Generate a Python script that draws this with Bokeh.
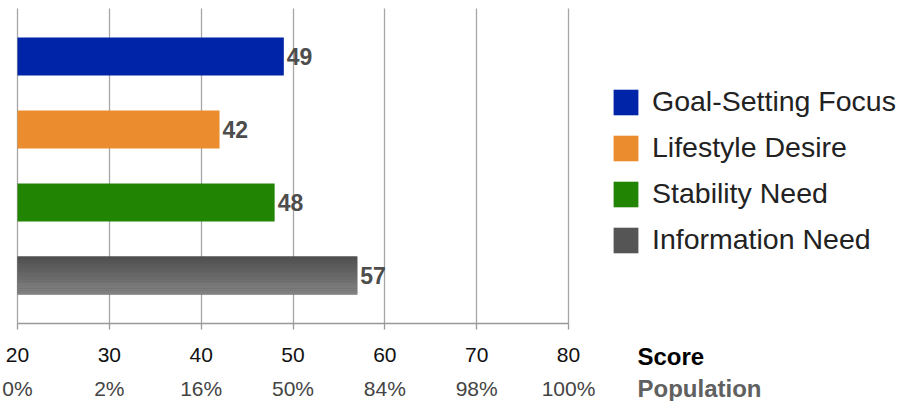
from bokeh.plotting import figure
from bokeh.models import (Range1d, FixedTicker, ColumnDataSource, LinearAxis,
                          Legend, LegendItem)
from bokeh.core.properties import value
from bokeh.embed import file_html
from bokeh.resources import INLINE

# ---- data ----
categories = ["Goal-Setting Focus", "Lifestyle Desire", "Stability Need", "Information Need"]
scores = [49, 42, 48, 57]
colors = ["#0024A8", "#EB8C2E", "#228403", "#555555"]
score_ticks = [20, 30, 40, 50, 60, 70, 80]
population_labels = ["0%", "2%", "16%", "50%", "84%", "98%", "100%"]
axis_titles = ["Score", "Population"]

FONT = "Liberation Sans"
W, H = 899, 401
BAR_H = 0.52

# pixel <-> data mapping of the drawing area (frame covers the whole canvas)
PX_X0, PX_PER_X = 17, 551 / 60          # x=20 sits at pixel 17, 60 units span 551 px
PX_Y0, PX_PER_Y = 275, 73               # category 0 centre at pixel 275, 73 px per slot
def xd(px):
    return score_ticks[0] + (px - PX_X0) / PX_PER_X
def yd(py):
    return (PX_Y0 - py) / PX_PER_Y

AXIS_Y = yd(323)
TOP_Y = yd(8)

p = figure(width=W, height=H, x_range=Range1d(xd(0), xd(W)), y_range=Range1d(yd(H), yd(0)),
           output_backend="svg", toolbar_location=None, y_axis_location=None,
           min_border_left=0, min_border_right=0, min_border_top=0, min_border_bottom=0)
p.outline_line_color = None
p.ygrid.visible = False

ticker = FixedTicker(ticks=score_ticks)
ax = p.xaxis[0]
ax.ticker = ticker
ax.fixed_location = AXIS_Y
ax.bounds = (score_ticks[0], score_ticks[-1])
ax.axis_line_color = "#999999"
ax.axis_line_width = 1.3
ax.major_tick_line_color = "#999999"
ax.major_tick_line_width = 1.3
ax.major_tick_out = 6
ax.major_tick_in = 0
ax.minor_tick_line_color = None
ax.major_label_standoff = 18
ax.major_label_text_font = FONT
ax.major_label_text_font_size = "21px"
ax.major_label_text_color = "#111111"

ax2 = LinearAxis(ticker=FixedTicker(ticks=score_ticks), fixed_location=AXIS_Y,
                 bounds=(score_ticks[0], score_ticks[-1]),
                 major_label_overrides={t: l for t, l in zip(score_ticks, population_labels)})
ax2.axis_line_color = None
ax2.major_tick_line_color = None
ax2.minor_tick_line_color = None
ax2.major_tick_out = 0
ax2.major_tick_in = 0
ax2.major_label_standoff = 53
ax2.major_label_text_font = FONT
ax2.major_label_text_font_size = "21px"
ax2.major_label_text_color = "#444444"
p.add_layout(ax2, "below")

p.xgrid.ticker = ticker
p.xgrid.grid_line_color = "#a6a6a6"
p.xgrid.grid_line_width = 1.3
p.xgrid.cross_bounds = (AXIS_Y, TOP_Y)

n = len(categories)
ypos = [n - 1 - i for i in range(n)]
src = ColumnDataSource(dict(y=ypos, right=scores, color=colors, cat=categories,
                            lab=[str(s) for s in scores]))

bars = []
for i in range(n):
    bars.append(p.hbar(y=ypos[i], left=score_ticks[0], right=scores[i], height=BAR_H,
                       fill_color=colors[i], line_color=None))

# vertical gradient on the grey bar
gi = 3
steps = 20
c_top = (0x4f, 0x4f, 0x4f)
c_bot = (0x84, 0x84, 0x84)
for k in range(steps):
    t = k / (steps - 1)
    col = "#%02x%02x%02x" % tuple(int(a + (b - a) * t) for a, b in zip(c_top, c_bot))
    yc = ypos[gi] + BAR_H / 2 - (k + 0.5) * BAR_H / steps
    p.hbar(y=yc, left=score_ticks[0], right=scores[gi], height=BAR_H / steps * 1.05,
           fill_color=col, line_color=None)

p.text(x="right", y="y", text="lab", source=src, x_offset=3,
       text_baseline="middle", text_align="left",
       text_font=value(FONT), text_font_style="bold",
       text_font_size="23px", text_color="#4d4d4d")

# axis titles to the right of the tick labels
title_src = ColumnDataSource(dict(x=[xd(637)] * 2, y=[yd(356), yd(388)], t=axis_titles,
                                  c=["#000000", "#606060"]))
p.text(x="x", y="y", text="t", text_color="c", source=title_src,
       text_align="left", text_baseline="middle",
       text_font=value(FONT), text_font_style="bold", text_font_size="24px")

legend = Legend(items=[LegendItem(label=categories[i], renderers=[bars[i]]) for i in range(n)],
                location=(610, 145), orientation="vertical")
legend.glyph_width = 31
legend.glyph_height = 32
legend.label_standoff = 11
legend.spacing = 13
legend.padding = 0
legend.margin = 0
legend.border_line_color = None
legend.background_fill_alpha = 0
legend.label_text_font = FONT
legend.label_text_font_size = "28.5px"
legend.label_text_color = "#222222"
legend.label_height = 26
p.add_layout(legend, "center")

open("out.html", "w").write(file_html(p, INLINE))
